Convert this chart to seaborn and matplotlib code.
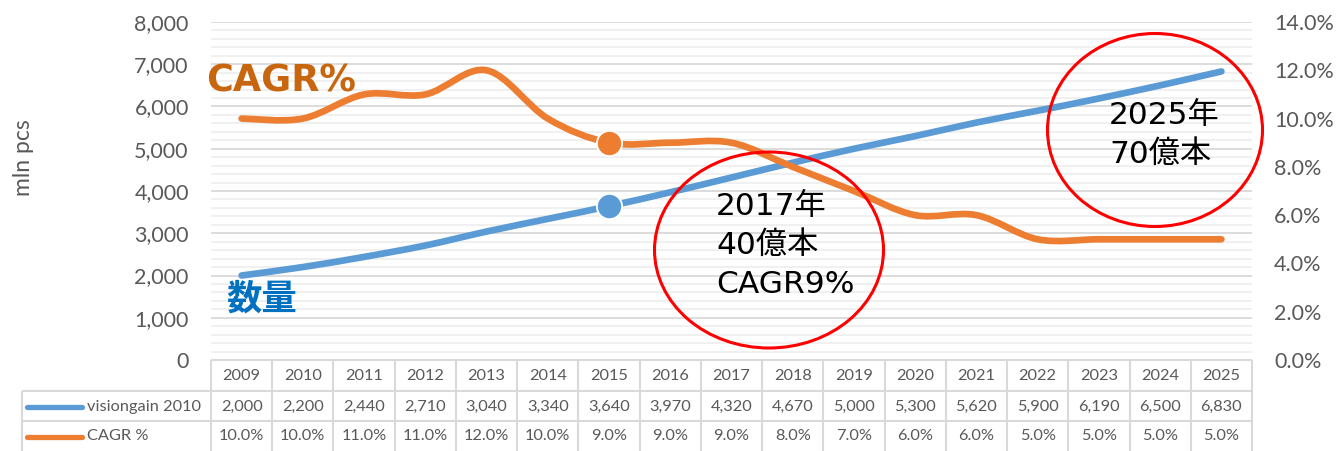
import numpy as np
import matplotlib
matplotlib.use("Agg")
import matplotlib.pyplot as plt
import seaborn as sns
from matplotlib.path import Path
from matplotlib.patches import PathPatch, Ellipse
from matplotlib.ticker import MultipleLocator, FuncFormatter

# ---------------- data ----------------
years = ["2009", "2010", "2011", "2012", "2013", "2014", "2015", "2016", "2017",
         "2018", "2019", "2020", "2021", "2022", "2023", "2024", "2025"]
volume = [2000, 2200, 2440, 2710, 3040, 3340, 3640, 3970, 4320,
          4670, 5000, 5300, 5620, 5900, 6190, 6500, 6830]
cagr = [10.0, 10.0, 11.0, 11.0, 12.0, 10.0, 9.0, 9.0, 9.0,
        8.0, 7.0, 6.0, 6.0, 5.0, 5.0, 5.0, 5.0]
series_names = ["visiongain 2010", "CAGR %"]
highlight_year = "2015"
y_label = "mln pcs"
note_2017 = "2017年\n40億本\nCAGR9%"
note_2025 = "2025年\n70億本"
label_cagr = "CAGR%"
label_volume = "数量"

BLUE = "#5B9BD5"
ORANGE = "#ED7D31"
GRAY = "#595959"
GRID_MAJ = "#D9D9D9"
GRID_MIN = "#EFEFEF"

sns.set_theme(style="white")
plt.rcParams["font.family"] = ["Lato", "Noto Sans CJK JP", "DejaVu Sans"]

W, H = 1338, 451
fig = plt.figure(figsize=(W / 100, H / 100), dpi=100)


def fx(px):
    return px / W


def fy(py):
    return 1 - py / H


L, R, T, B = 211, 1252, 22, 360
ax = fig.add_axes([fx(L), fy(B), (R - L) / W, (B - T) / H])
ax2 = ax.twinx()

x = np.arange(len(years))


def smooth_path(xs, ys):
    pts = np.column_stack([xs, ys]).astype(float)
    n = len(pts)
    verts = [pts[0]]
    codes = [Path.MOVETO]
    for i in range(n - 1):
        p0 = pts[i - 1] if i > 0 else pts[i]
        p1 = pts[i]
        p2 = pts[i + 1]
        p3 = pts[i + 2] if i + 2 < n else pts[i + 1]
        c1 = p1 + (p2 - p0) / 6.0
        c2 = p2 - (p3 - p1) / 6.0
        verts += [c1, c2, p2]
        codes += [Path.CURVE4] * 3
    return Path(verts, codes)


hi = years.index(highlight_year)
sns.scatterplot(x=[x[hi]], y=[volume[hi]], ax=ax, s=330, color=BLUE,
                edgecolor="white", linewidth=1.3, zorder=5, legend=False)
sns.scatterplot(x=[x[hi]], y=[cagr[hi]], ax=ax2, s=330, color=ORANGE,
                edgecolor="white", linewidth=1.3, zorder=5, legend=False)

# axes setup
ax.set_xlim(-0.5, len(years) - 0.5)
ax.set_ylim(0, 8000)
ax2.set_ylim(0, 14)
ax.yaxis.set_major_locator(MultipleLocator(1000))
ax.yaxis.set_minor_locator(MultipleLocator(200))
ax2.yaxis.set_major_locator(MultipleLocator(2))
ax.yaxis.set_major_formatter(FuncFormatter(lambda v, p: f"{int(v):,}"))
ax2.yaxis.set_major_formatter(FuncFormatter(lambda v, p: f"{v:.1f}%"))
ax.grid(False)
ax2.grid(False)
ax.grid(which="minor", axis="y", color=GRID_MIN, lw=1.3, zorder=0)
ax.grid(which="major", axis="y", color=GRID_MAJ, lw=1.3, zorder=0)
ax.set_axisbelow(True)
for a in (ax, ax2):
    for s in a.spines.values():
        s.set_visible(False)
    a.tick_params(which="both", length=0)
    a.tick_params(axis="x", bottom=False, labelbottom=False)
    a.set_xlabel("")
    a.set_ylabel("")
ax.tick_params(axis="y", labelsize=15.5, labelcolor=GRAY, pad=16)
ax2.tick_params(axis="y", labelsize=15.5, labelcolor=GRAY, pad=16)
ax.set_xticks([])

# lines (smoothed like the original)
ax.add_patch(PathPatch(smooth_path(x, volume), facecolor="none", edgecolor=BLUE,
                       lw=4.8, capstyle="round", joinstyle="round", zorder=3))
ax2.add_patch(PathPatch(smooth_path(x, cagr), facecolor="none", edgecolor=ORANGE,
                        lw=4.8, capstyle="round", joinstyle="round", zorder=3))

# red ellipses (annotations)
colw = (R - L) / len(years)
ppu = (B - T) / 8000.0


def px2data(px, py):
    return (px - L) / colw - 0.5, (B - py) / ppu


for (cx, cy, w, h) in [(769, 250, 229, 196), (1155, 130, 215, 193)]:
    dx, dy = px2data(cx, cy)
    ax2.add_patch(Ellipse((dx, dy * 14 / 8000), w / colw, h / ppu * 14 / 8000,
                          facecolor="none", edgecolor="#FF0000", lw=2.2,
                          clip_on=False, zorder=6))

note_fam = ["DejaVu Sans", "Noto Sans CJK JP"]
fig.text(fx(716), fy(192), note_2017, ha="left", va="top", fontsize=22.5,
         color="black", family=note_fam, linespacing=1.43, zorder=7)
fig.text(fx(1109), fy(101), note_2025, ha="left", va="top", fontsize=22.5,
         color="black", family=note_fam, linespacing=1.43, zorder=7)
fig.text(fx(206), fy(91), label_cagr, ha="left", va="baseline", fontsize=26.3,
         fontweight="bold", color="#C8650F", family=note_fam, zorder=7)
fig.text(fx(262), fy(299), label_volume, ha="center", va="center", fontsize=25.5,
         fontweight="bold", color="#0070C0", family=["Noto Sans CJK JP", "DejaVu Sans"],
         zorder=7)
fig.text(fx(24), fy(158), y_label, rotation=90, ha="center", va="center",
         fontsize=16.5, color=GRAY)

# ---------------- data table ----------------
TL = 22
tab = fig.add_axes([fx(TL), 0, (R - TL) / W, (H - B) / H])
left_u = -0.5 - (L - TL) / colw
tab.set_xlim(left_u, len(years) - 0.5)
tab.set_ylim(H - B, 0)
tab.axis("off")
rows_y = [0, 31, 61, H - B]
lc = dict(color=GRID_MAJ, lw=1.5, clip_on=False, solid_capstyle="butt")
tab.plot([-0.5, len(years) - 0.5], [0, 0], **lc)
for yy in rows_y[1:3]:
    tab.plot([left_u, len(years) - 0.5], [yy, yy], **lc)
for i in range(len(years) + 1):
    tab.plot([i - 0.5, i - 0.5], [0, H - B], **lc)
tab.plot([left_u, left_u], [31, H - B], **lc)

tfs = 11.8
for i, yr in enumerate(years):
    tab.text(i, 16, yr, ha="center", va="center", fontsize=tfs, color=GRAY)
    tab.text(i, 46.5, f"{volume[i]:,}", ha="center", va="center", fontsize=tfs, color=GRAY)
    tab.text(i, 76.5, f"{cagr[i]:.1f}%", ha="center", va="center", fontsize=tfs, color=GRAY)

sw0 = left_u + 5 / colw
sw1 = left_u + 60 / colw
for yy, nm, col in [(46.5, series_names[0], BLUE), (76.5, series_names[1], ORANGE)]:
    tab.plot([sw0, sw1], [yy, yy], color=col, lw=3.8, solid_capstyle="round")
    tab.text(left_u + 65 / colw, yy, nm, ha="left", va="center", fontsize=tfs, color=GRAY)

fig.savefig("out.png", dpi=100)
